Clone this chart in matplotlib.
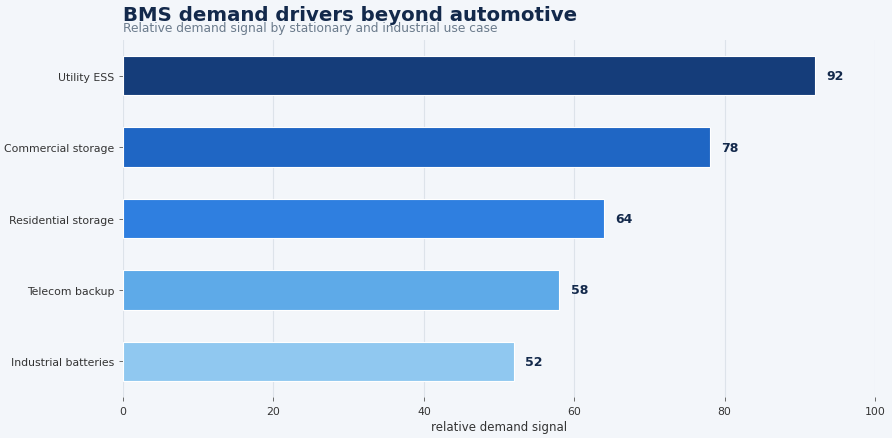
import matplotlib
matplotlib.use('Agg')
from matplotlib import pyplot as plt

# data
categories = ['Utility ESS', 'Commercial storage', 'Residential storage', 'Telecom backup', 'Industrial batteries']
values = [92, 78, 64, 58, 52]
colors = ['#153d7a', '#1f66c4', '#2f7fe0', '#5eaae8', '#90c8f0']
xticks = [0, 20, 40, 60, 80, 100]

bg = '#f3f6fa'

fig = plt.figure(figsize=(8.92, 4.39), dpi=100, facecolor=bg)
ax = fig.add_axes([0.138, 0.093, 0.843, 0.814], facecolor=bg)

ypos = list(range(len(categories)))[::-1]
ax.barh(ypos, values, height=0.55, color=colors, edgecolor='#ffffff', linewidth=0.8, zorder=3)

for y, v in zip(ypos, values):
    ax.text(v + 1.5, y, str(v), va='center', ha='left', fontsize=9,
            fontweight='bold', color='#13294b', zorder=4)

ax.set_yticks(ypos)
ax.set_yticklabels(categories)
ax.set_xticks(xticks)
ax.set_xlim(0, 100)
ax.set_ylim(-0.5, 4.5)
ax.tick_params(axis='both', labelsize=7.8, length=3, width=0.6, colors='#555555', labelcolor='#333333')
ax.tick_params(axis='y', pad=3.5)
ax.grid(axis='x', color='#dde3ea', linewidth=0.8, zorder=0)
for s in ax.spines.values():
    s.set_visible(False)

ax.set_xlabel('relative demand signal', fontsize=8.5, color='#333333', labelpad=3)

fig.text(0.138, 0.965, 'BMS demand drivers beyond automotive', fontsize=14.2,
         fontweight='bold', color='#13294b', ha='left', va='center')
fig.text(0.138, 0.934, 'Relative demand signal by stationary and industrial use case',
         fontsize=8.8, color='#6b7b8c', ha='left', va='center')

plt.savefig('out.png', dpi=100, facecolor=bg)
